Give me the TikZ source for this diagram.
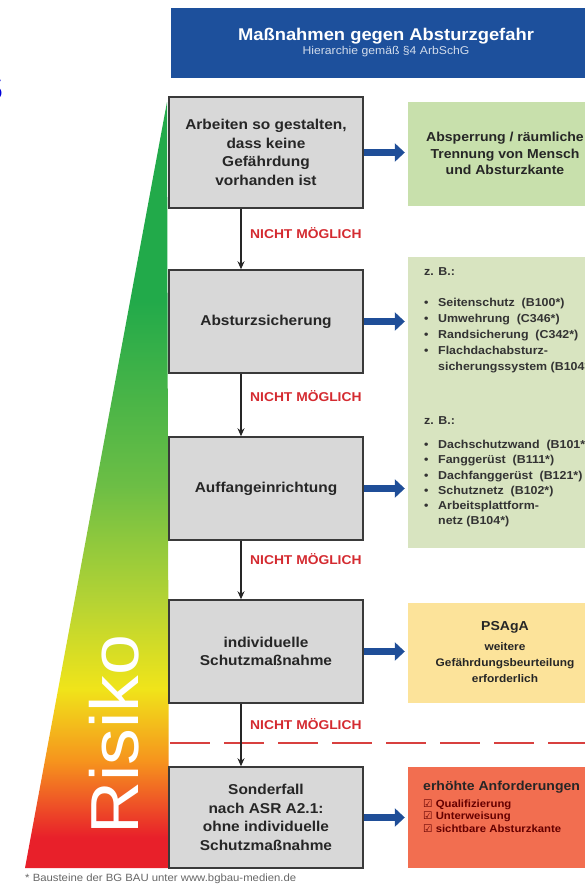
\documentclass[tikz,border=0pt]{standalone}
\usepackage{fontspec}
\setmainfont{Liberation Sans}[FakeStretch=1.08]
\newfontfamily\symfont{DejaVu Sans}
\usepackage{xcolor}
\usetikzlibrary{arrows.meta}
\definecolor{headblue}{HTML}{1D509C}
\definecolor{arrowblue}{HTML}{1F4E98}
\definecolor{boxgray}{HTML}{3A3A3A}
\definecolor{stepgray}{HTML}{D8D8D8}
\definecolor{lightgreen}{HTML}{C8E0AC}
\definecolor{palegreen}{HTML}{D8E4C0}
\definecolor{psayellow}{HTML}{FCE39A}
\definecolor{warnred}{HTML}{F26E50}
\definecolor{nichtred}{HTML}{D42A30}
\definecolor{dashred}{HTML}{D8403F}
\definecolor{riskred}{HTML}{E8202A}
\definecolor{riskorangered}{HTML}{EF5A26}
\definecolor{riskorange}{HTML}{F6941D}
\definecolor{riskyellow}{HTML}{F0E41A}
\definecolor{risklime}{HTML}{B4D334}
\definecolor{riskgreen}{HTML}{6CBE45}
\definecolor{riskdarkgreen}{HTML}{22AA4A}
\pgfdeclareverticalshading{risk}{100bp}{color(0bp)=(riskred); color(27bp)=(riskred); color(29.5bp)=(riskorangered); color(32bp)=(riskorange); color(36.7bp)=(riskyellow); color(42.5bp)=(risklime); color(50bp)=(riskgreen); color(62bp)=(riskdarkgreen); color(100bp)=(riskdarkgreen)}
\newcommand{\bul}{\makebox[14pt][l]{\textbullet}}
\newcommand{\weiter}{\hspace*{14pt}}
\newcommand{\haken}{{\symfont ☑}}
\tikzset{
    head-box/.style = {fill=headblue, text=white, minimum width=430pt, minimum height=70pt, align=center, inner sep=0pt},
    step-box/.style = {draw=boxgray, fill=stepgray, line width=1.5pt, minimum width=194pt, minimum height=103pt, align=center, inner sep=0pt, text=black!85, font=\fontsize{14.3}{18.5}\selectfont\bfseries},
    green-box/.style = {minimum width=194pt, align=center, inner sep=0pt, text=black!85, font=\fontsize{13}{16.5}\selectfont\bfseries},
    list-text/.style = {anchor=north west, align=left, inner sep=0pt, text=black!80, font=\fontsize{11.5}{16}\selectfont\bfseries},
    nicht-label/.style = {anchor=west, text=nichtred, inner sep=0pt, font=\fontsize{12.8}{14}\selectfont\bfseries},
    blue-arrow/.style = {draw=arrowblue, line width=7pt, -{Triangle[length=10pt,width=18pt]}, shorten >=3pt},
    down-arrow/.style = {draw=black!85, line width=1.3pt, -{Stealth[length=8pt,width=7pt]}},
    sep-line/.style = {draw=dashred, line width=2.5pt, dash pattern=on 40pt off 14pt},
}
\begin{document}
\begin{tikzpicture}[x=1pt,y=-1pt]
\useasboundingbox (0,0) rectangle (584,884);

% Risiko-Keil
\shade[shading=risk] (167,102) -- (169,868) -- (25,868) -- cycle;
\node[rotate=90, text=white, font=\fontsize{68}{68}\selectfont] (risiko) at (114,735) {Risiko};
\node[anchor=east, text=blue!85!black, font=\fontsize{36}{36}\selectfont\bfseries] (randtext) at (7,88) {S};

% Kopf
\node[head-box] (kopf) at (386,43) {{\fontsize{17}{21}\selectfont\bfseries Maßnahmen gegen Absturzgefahr}\\[2pt]
    {\fontsize{11.3}{12}\selectfont\color{white!80!headblue} Hierarchie gemäß §4 ArbSchG}};

% Rangfolge
\node[step-box, minimum height=111pt] (arbeiten) at (266,152.5) {Arbeiten so gestalten,\\dass keine\\Gefährdung\\vorhanden ist};
\node[step-box] (absturz) at (266,321.5) {Absturzsicherung};
\node[step-box] (auffang) at (266,488.5) {Auffangeinrichtung};
\node[step-box] (individuell) at (266,651.5) {individuelle\\Schutzmaßnahme};
\node[step-box, minimum height=101pt] (sonderfall) at (266,817.5) {Sonderfall\\nach ASR A2.1:\\ohne individuelle\\Schutzmaßnahme};

% Beispiele rechts
\node[green-box, fill=lightgreen, minimum height=104pt] (absperrung) at (505,153.5) {Absperrung / räumliche\\Trennung von Mensch\\und Absturzkante};
\node[green-box, fill=palegreen, minimum height=291pt] (beispiele) at (505,402.5) {};
\node[list-text] (liste1) at (424,267) {z. B.:\\[15pt]
    \bul Seitenschutz\ \ (B100*)\\
    \bul Umwehrung\ \ (C346*)\\
    \bul Randsicherung\ \ (C342*)\\
    \bul Flachdachabsturz-\\
    \weiter sicherungssystem (B104*)};
\node[list-text, font=\fontsize{11.5}{15.3}\selectfont\bfseries] (liste2) at (424,416) {z. B.:\\[9pt]
    \bul Dachschutzwand\ \ (B101*)\\
    \bul Fanggerüst\ \ (B111*)\\
    \bul Dachfanggerüst\ \ (B121*)\\
    \bul Schutznetz\ \ (B102*)\\
    \bul Arbeitsplattform-\\
    \weiter netz (B104*)};
\node[green-box, fill=psayellow, minimum height=100pt, font=\fontsize{11}{16}\selectfont\bfseries] (psaga) at (505,652.5) {{\fontsize{13}{16}\selectfont PSAgA}\\[4pt]weitere\\Gefährdungsbeurteilung\\erforderlich};
\node[green-box, fill=warnred, minimum height=101pt] (anforderungen) at (505,817.5) {};
\node[list-text, text=black!85, font=\fontsize{10.5}{12.5}\selectfont\bfseries] (anf-text) at (423,781) {{\fontsize{13}{14}\selectfont erhöhte Anforderungen}\\[4pt]
    \textcolor{red!40!black}{\haken\ Qualifizierung}\\
    \textcolor{red!40!black}{\haken\ Unterweisung}\\
    \textcolor{red!40!black}{\haken\ sichtbare Absturzkante}};

% Grenze
\draw[sep-line] (170,743) -- (600,743);

% Pfeile
\draw[blue-arrow] (arbeiten.east) -- (arbeiten.east -| absperrung.west);
\draw[blue-arrow] (absturz.east) -- (absturz.east -| beispiele.west);
\draw[blue-arrow] (auffang.east) -- (auffang.east -| beispiele.west);
\draw[blue-arrow] (individuell.east) -- (individuell.east -| psaga.west);
\draw[blue-arrow] (sonderfall.east) -- (sonderfall.east -| anforderungen.west);

\draw[down-arrow] ([xshift=-25pt]arbeiten.south) -- ([xshift=-25pt]absturz.north);
\draw[down-arrow] ([xshift=-25pt]absturz.south) -- ([xshift=-25pt]auffang.north);
\draw[down-arrow] ([xshift=-25pt]auffang.south) -- ([xshift=-25pt]individuell.north);
\draw[down-arrow] ([xshift=-25pt]individuell.south) -- ([xshift=-25pt]sonderfall.north);

\node[nicht-label] (nicht1) at ([xshift=-16pt,yshift=-24pt]arbeiten.south) {NICHT MÖGLICH};
\node[nicht-label] (nicht2) at ([xshift=-16pt,yshift=-22pt]absturz.south) {NICHT MÖGLICH};
\node[nicht-label] (nicht3) at ([xshift=-16pt,yshift=-18pt]auffang.south) {NICHT MÖGLICH};
\node[nicht-label] (nicht4) at ([xshift=-16pt,yshift=-20pt]individuell.south) {NICHT MÖGLICH};

% Fussnote
\node[anchor=base west, inner sep=0pt, text=black!60, font=\fontsize{10.5}{12}\selectfont] (fussnote) at (25,881) {* Bausteine der BG BAU unter www.bgbau-medien.de};
\end{tikzpicture}
\end{document}
